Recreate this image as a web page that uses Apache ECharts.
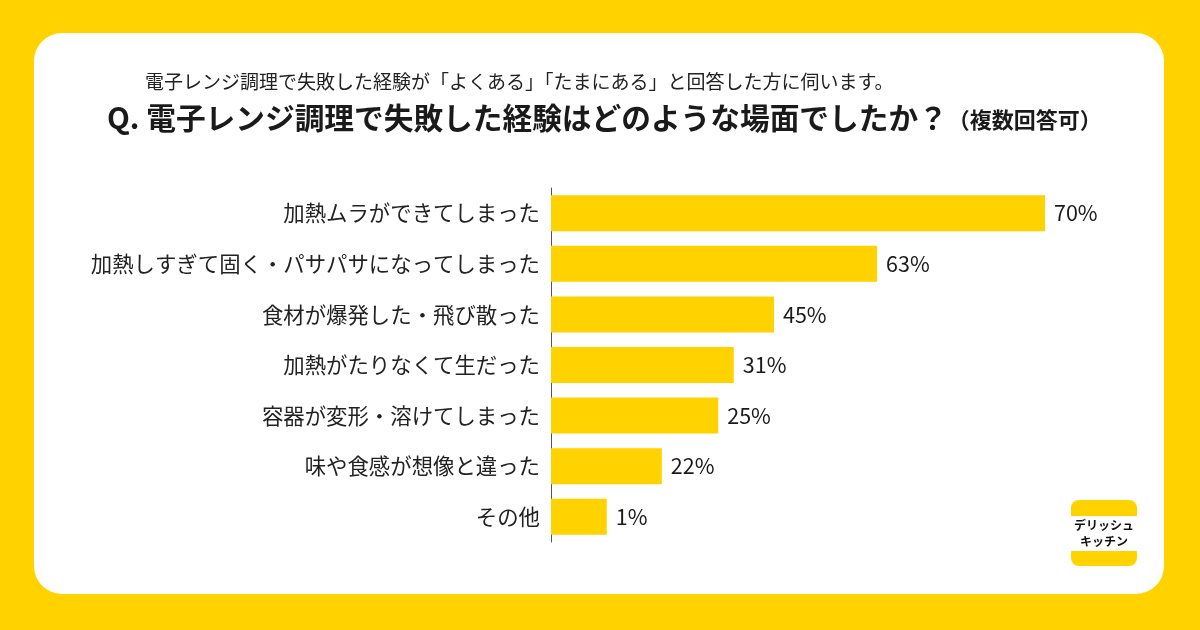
<!DOCTYPE html>
<html>
<head>
<meta charset="utf-8">
<script src="https://cdn.jsdelivr.net/npm/echarts@6/dist/echarts.min.js"></script>
<style>
  html, body { margin: 0; padding: 0; background: #FFD200; }
  #chart { width: 1200px; height: 630px; }
</style>
</head>
<body>
<div id="chart"></div>
<script>
// answers, top to bottom
const categories = [
  "加熱ムラができてしまった",
  "加熱しすぎて固く・パサパサになってしまった",
  "食材が爆発した・飛び散った",
  "加熱がたりなくて生だった",
  "容器が変形・溶けてしまった",
  "味や食感が想像と違った",
  "その他"
]
// percentages printed next to each bar
const values = [70, 63, 45, 31, 25, 22, 1]
// bar lengths as drawn in the original graphic (not proportional to the labels),
// measured in units where the 70% bar = 70
const barLengths = [70, 46.2, 31.6, 25.9, 23.7, 15.7, 7.9]

const font = '"Noto Sans CJK JP", "Noto Sans", sans-serif'
const yellow = "#FFD200"

const chart = echarts.init(document.getElementById("chart"))

const option = {
  backgroundColor: yellow,
  animation: false,
  textStyle: { fontFamily: font },
  title: [
    {
      text: "電子レンジ調理で失敗した経験が「よくある」「たまにある」と回答した方に伺います。",
      left: 145,
      top: 70,
      padding: 0,
      textStyle: {
        fontFamily: font,
        fontSize: 19,
        fontWeight: "normal",
        color: "#222",
        lineHeight: 24,
      },
    },
    {
      text: "{q|Q. 電子レンジ調理で失敗した経験はどのような場面でしたか？}{s|（複数回答可）}",
      left: 107,
      top: 100,
      padding: 0,
      textStyle: {
        fontFamily: font,
        rich: {
          q: { fontFamily: font, fontSize: 29.7, fontWeight: "bold", color: "#1a1a1a", lineHeight: 36 },
          s: { fontFamily: font, fontSize: 22, fontWeight: "bold", color: "#1a1a1a", lineHeight: 36, padding: [3, 0, 0, 0] },
        },
      },
    },
  ],
  graphic: [
    {
      type: "rect",
      z: 0,
      shape: { x: 34, y: 33, width: 1130, height: 561, r: 28 },
      style: { fill: "#fff" },
    },
    {
      type: "group",
      z: 10,
      children: [
        {
          type: "rect",
          shape: { x: 1071, y: 500, width: 66, height: 16, r: [8, 8, 0, 0] },
          style: { fill: yellow },
        },
        {
          type: "rect",
          shape: { x: 1071, y: 551, width: 66, height: 15, r: [0, 0, 8, 8] },
          style: { fill: yellow },
        },
        {
          type: "text",
          x: 1104,
          y: 533,
          style: {
            text: "デリッシュ\nキッチン",
            fontFamily: font,
            fontSize: 12,
            fontWeight: "bold",
            lineHeight: 16,
            fill: "#111",
            align: "center",
            verticalAlign: "middle",
          },
        },
      ],
    },
  ],
  grid: {
    left: 551,
    right: 155,
    top: 188,
    height: 354,
    containLabel: false,
  },
  xAxis: {
    type: "value",
    min: 0,
    max: 70,
    show: false,
  },
  yAxis: {
    type: "category",
    data: categories,
    inverse: true,
    axisLine: { show: true, lineStyle: { color: "#555", width: 1 } },
    axisTick: { show: false },
    axisLabel: {
      fontFamily: font,
      fontSize: 21.4,
      color: "#222",
      margin: 11,
    },
  },
  series: [
    {
      type: "bar",
      data: barLengths,
      barWidth: 36,
      itemStyle: { color: yellow },
      label: {
        show: true,
        position: "right",
        distance: 9,
        fontFamily: font,
        fontSize: 21.5,
        color: "#1a1a1a",
        formatter: (p) => values[p.dataIndex] + "%",
      },
      z: 5,
    },
  ],
}

chart.setOption(option)
</script>
</body>
</html>
